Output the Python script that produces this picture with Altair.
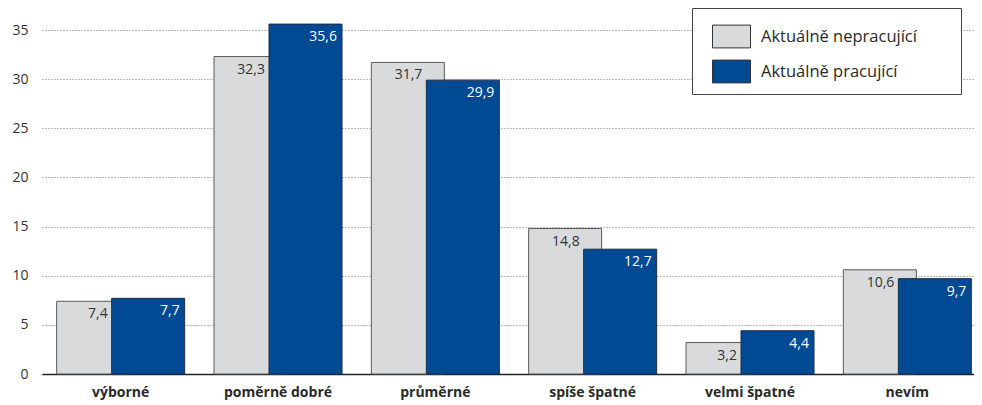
import altair as alt
import pandas as pd

categories = ["výborné", "poměrně dobré", "průměrné", "spíše špatné", "velmi špatné", "nevím"]
series_names = ["Aktuálně nepracující", "Aktuálně pracující"]
nepracujici = [7.4, 32.3, 31.7, 14.8, 3.2, 10.6]
pracujici = [7.7, 35.6, 29.9, 12.7, 4.4, 9.7]
y_ticks = [0, 5, 10, 15, 20, 25, 30, 35]

rows = []
for c, a, b in zip(categories, nepracujici, pracujici):
    rows.append({"kat": c, "skupina": series_names[0], "hodnota": a, "popis": f"{a:.1f}".replace(".", ",")})
    rows.append({"kat": c, "skupina": series_names[1], "hodnota": b, "popis": f"{b:.1f}".replace(".", ",")})
df = pd.DataFrame(rows)

FONT = "Open Sans"
GREY = "#d9dadc"
BLUE = "#004a93"

x_enc = alt.X("kat:N", sort=categories, title=None,
              scale=alt.Scale(range=[0, 944], paddingInner=0, paddingOuter=0),
              axis=alt.Axis(labelAngle=0, labelFontWeight="bold", labelFontSize=14,
                            labelColor="#2a2a2a", labelFont=FONT, labelPadding=11,
                            ticks=False, domain=True, domainColor="#222222",
                            domainWidth=1.5, grid=False))
y_enc = alt.Y("hodnota:Q", title=None,
              scale=alt.Scale(domain=[0, 35], nice=False),
              axis=alt.Axis(values=y_ticks, ticks=False, domain=False, labelPadding=14,
                            labelFontSize=14, labelColor="#333333", labelFont=FONT,
                            grid=True, gridColor="#7a7a7a", gridDash=[1, 2],
                            gridWidth=1))
pad = "\u00a0" * 8 + "\u200b"
color_enc = alt.Color("skupina:N", title=None,
                      scale=alt.Scale(domain=series_names, range=[GREY, BLUE]),
                      legend=alt.Legend(orient="none", legendX=650, legendY=-22,
                                        symbolType="M-1,-0.6H1V0.6H-1Z", symbolSize=1444,
                                        symbolStrokeWidth=1, symbolStrokeColor="#333333",
                                        symbolOpacity=1, labelLimit=400,
                                        labelFontSize=16.5, labelFont=FONT, labelColor="#2a2a2a",
                                        labelOffset=10, padding=9, symbolOffset=11,
                                        strokeColor="#444444", fillColor="white",
                                        labelExpr=f"datum.label + '{pad}'"))

base = alt.Chart(df)

grey_bar = base.transform_filter(alt.datum.skupina == series_names[0]).mark_bar(
    width=73, xOffset=-27.5, stroke="#5a5a5a", strokeWidth=1, opacity=1
).encode(x=x_enc, y=y_enc, color=color_enc)

blue_bar = base.transform_filter(alt.datum.skupina == series_names[1]).mark_bar(
    width=73, xOffset=27.5, stroke="#1b2a4a", strokeWidth=1, opacity=1
).encode(x=x_enc, y=y_enc, color=color_enc)

grey_text = base.transform_filter(alt.datum.skupina == series_names[0]).mark_text(
    align="right", baseline="alphabetic", dx=-13, dy=17, fontSize=14, font=FONT, color="#333333"
).encode(x=alt.X("kat:N", sort=categories), y="hodnota:Q", text="popis:N")

blue_text = base.transform_filter(alt.datum.skupina == series_names[1]).mark_text(
    align="right", baseline="alphabetic", dx=59, dy=17, fontSize=14, font=FONT, color="white"
).encode(x=alt.X("kat:N", sort=categories), y="hodnota:Q", text="popis:N")

chart = alt.layer(grey_bar, blue_bar, grey_text, blue_text).properties(
    width=932, height=344,
    autosize=alt.AutoSizeParams(type="none"),
    padding={"left": 34, "top": 22, "right": 0, "bottom": 30},
).configure_view(stroke=None).configure_legend(symbolFillColor=GREY)

chart.save("out.html", embed_options={"renderer": "svg", "actions": False})
